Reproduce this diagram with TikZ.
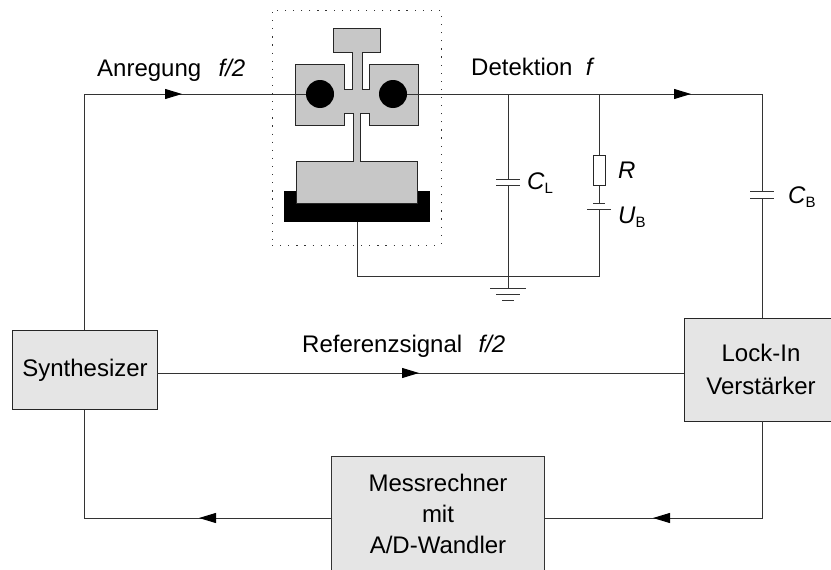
\documentclass[tikz,border=0pt]{standalone}
\usepackage{fontspec}
\setmainfont{Liberation Sans}
\usetikzlibrary{arrows.meta}
\tikzset{
  wire/.style={line width=1pt,black!80},
  arrowed/.style={wire,-{Triangle[length=17pt,width=10pt,color=black]}},
  blockbox/.style={draw=black!85,line width=1pt,fill=black!10,align=center,inner sep=0pt,font=\fontsize{24}{33}\selectfont},
  lbl/.style={anchor=west,inner sep=0pt,font=\fontsize{24}{28}\selectfont},
  device/.style={draw=black!85,line width=1pt,fill=black!22},
  dot/.style={circle,fill=black,minimum size=28pt,inner sep=0pt},
  plate/.style={wire}
}
\newcommand{\subs}[1]{\raisebox{-4pt}{\fontsize{15}{15}\selectfont #1}}
\begin{document}
\begin{tikzpicture}[x=1pt,y=-1pt]
\useasboundingbox (0,0) rectangle (831,570);
% blocks
\node[blockbox,minimum width=145pt,minimum height=79pt] (syn) at (84.5,370) {\hspace*{1pt}Synthesizer};
\node[blockbox,minimum width=148pt,minimum height=103pt] (lock) at (758,369.5) {\hspace*{6pt}Lock-In\\\hspace*{6pt}Verstärker};
\node[fill=black!10,inner sep=0pt,align=center,minimum width=212pt,minimum height=113pt,font=\fontsize{24}{31}\selectfont] (mess) at (438,513.5) {Messrechner\\mit\\A/D-Wandler};
\draw[wire] (mess.south west) |- (mess.north east) -- (mess.south east);
% dotted frame
\node[draw=black!80,dash pattern=on 1.2pt off 6.9pt,line width=1pt,minimum width=169pt,minimum height=235pt,inner sep=0pt] (frame) at (356.5,127.5) {};
% device
\node[fill=black,minimum width=146pt,minimum height=31pt,inner sep=0pt] (sub) at (357,206.5) {};
\draw[device] (362,52) -- (362,89) -- (369,89) -- (369,64) -- (418,64) -- (418,125) -- (369,125) -- (369,113) -- (360,113) -- (360,161) -- (417,161) -- (417,203) -- (296,203) -- (296,161) -- (353,161) -- (353,113) -- (344,113) -- (344,125) -- (295,125) -- (295,64) -- (344,64) -- (344,89) -- (352,89) -- (352,52) -- (333,52) -- (333,28) -- (380,28) -- (380,52) -- cycle;
\fill[black!22] (352.5,51) rectangle (361.5,53);
\node[dot] (c1) at (320,94) {};
\node[dot] (c2) at (393,94) {};
% junctions
\coordinate (tl) at (84.5,94);
\coordinate (a1) at (182,94);
\coordinate (j1) at (508,94);
\coordinate (j2) at (599,94);
\coordinate (a2) at (691,94);
\coordinate (tr) at (762,94);
\coordinate (g0) at (357,276);
\coordinate (g1) at (508,276);
\coordinate (g2) at (599,276);
\coordinate (gnd) at (508,288);
\coordinate (cl1) at (508,179);
\coordinate (cl2) at (508,185);
\coordinate (cb1) at (762,191);
\coordinate (cb2) at (762,198);
\coordinate (u1) at (599,203);
\coordinate (u2) at (599,209);
\coordinate (lk) at (762,318);
\coordinate (lk2) at (762,421);
\coordinate (br) at (762,518);
\coordinate (a3) at (653,518);
\coordinate (bl) at (84.5,518);
\coordinate (a4) at (199,518);
\coordinate (a5) at (419,373);
\coordinate (rs) at (157,373);
\coordinate (rl) at (684,373);
\coordinate (mr) at (544,518);
\coordinate (ml) at (332,518);
\node[draw=black!85,line width=1pt,fill=white,minimum width=12pt,minimum height=30pt,inner sep=0pt] (res) at (599,170) {};
% wires
\draw[wire] (syn.north) -- (tl) -- (c1);
\draw[arrowed] (tl) -- (a1);
\draw[wire] (c2) -- (tr) -- (cb1);
\draw[arrowed] (c2) -- (a2);
\draw[wire] (cb2) -- (lk);
\draw[wire] (j1) -- (cl1) (cl2) -- (gnd);
\draw[wire] (j2) -- (res) (res) -- (u1) (u2) -- (g2) -- (g0) -- (sub.south);
\draw[wire] (rs) -- (rl);
\draw[arrowed] (rs) -- (a5);
\draw[wire] (lk2) -- (br) -- (mr);
\draw[arrowed] (br) -- (a3);
\draw[wire] (ml) -- (bl) -- (syn.south);
\draw[arrowed] (ml) -- (a4);
% capacitor plates
\draw[plate] ([xshift=-12pt]cl1) -- ([xshift=12pt]cl1) ([xshift=-12pt]cl2) -- ([xshift=12pt]cl2);
\draw[plate] ([xshift=-12pt]cb1) -- ([xshift=12pt]cb1) ([xshift=-12pt]cb2) -- ([xshift=12pt]cb2);
\draw[plate] ([xshift=-6pt]u1) -- ([xshift=6pt]u1) ([xshift=-12pt]u2) -- ([xshift=12pt]u2);
% ground
\draw[plate] ([xshift=-18pt]gnd) -- ([xshift=18pt]gnd);
\draw[plate] ([xshift=-12pt,yshift=-6pt]gnd) -- ([xshift=12pt,yshift=-6pt]gnd);
\draw[plate] ([xshift=-6pt,yshift=-12pt]gnd) -- ([xshift=6pt,yshift=-12pt]gnd);
% labels
\node[lbl] (l1) at (97,70) {Anregung\ \ \hspace{4pt}\textit{f/2}};
\node[lbl] (l2) at (471,67) {Detektion\ \ \textit{f}};
\node[lbl] (l3) at (302,346) {Referenzsignal\ \ \hspace{3pt}\textit{f/2}};
\node[lbl] (l4) at (527,183) {\textit{C}\subs{L}};
\node[lbl] (l5) at (618,170) {\textit{R}};
\node[lbl] (l6) at (618,217) {\textit{U}\subs{B}};
\node[lbl] (l7) at (788,197) {\textit{C}\subs{B}};
\end{tikzpicture}
\end{document}
